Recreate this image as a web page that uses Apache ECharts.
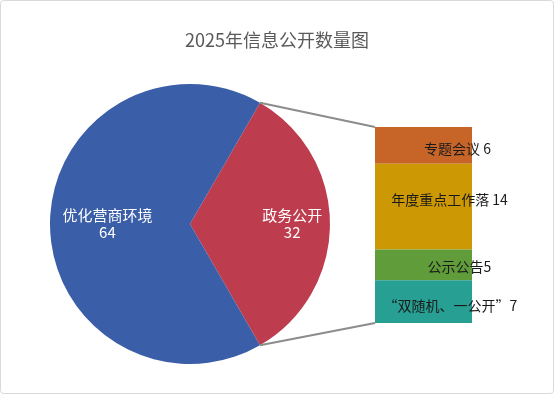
<!DOCTYPE html>
<html><head><meta charset="utf-8">
<script src="https://cdn.jsdelivr.net/npm/echarts@6/dist/echarts.min.js"></script>
<style>html,body{margin:0;padding:0;background:#fff}#c{width:554px;height:394px}</style>
</head><body><div id="c"></div>
<script>
const pieNames = ['政务公开', '优化营商环境'];
const pieValues = [32, 64];
const barNames = ['专题会议', '年度重点工作落', '公示公告', '“双随机、一公开”'];
const barValues = [6, 14, 5, 7];
const barLabels = ['专题会议 6', '年度重点工作落 14', '公示公告5', '“双随机、一公开”7'];

const FONT = '"Noto Sans CJK SC", "Microsoft YaHei", sans-serif';
const pieColors = ['#BD3C4E', '#3A5EA7'];
const barColors = ['#C76529', '#CC9904', '#609C39', '#27A093'];
const labelOffsets = [[34, 3], [26, -7], [36, 2], [27, 4]];
const pieLabelRadius = [0.73, 0.59];
const center = [190, 224], radius = 140;
const total = pieValues.reduce((a, b) => a + b, 0);
const half = pieValues[0] / total * 180;

// mid angles (degrees, counter-clockwise from +x) for each slice
const midAngles = [];
(function () {
  let start = half;
  pieValues.forEach(v => { const sweep = v / total * 360; midAngles.push(start - sweep / 2); start -= sweep; });
})();

const chart = echarts.init(document.getElementById('c'));
const barTotal = barValues.reduce((a, b) => a + b, 0);
const option = {
  animation: false,
  title: { text: '2025年信息公开数量图', left: 'center', top: 26,
    textStyle: { fontFamily: FONT, fontSize: 18, fontWeight: 'normal', color: '#595959' } },
  grid: { left: 375, top: 127, width: 97, height: 196 },
  xAxis: { type: 'category', data: ['x'], show: false },
  yAxis: { type: 'value', min: 0, max: barTotal, inverse: true, show: false },
  series: [
    { type: 'pie', center: center, radius: radius, startAngle: half, clockwise: true,
      label: { position: 'inside', color: '#fff', fontFamily: FONT, fontSize: 15, lineHeight: 17,
        align: 'center', verticalAlign: 'middle',
        formatter: p => p.name + '\n' + p.value },
      labelLayout: p => {
        const i = p.dataIndex, ang = midAngles[i] * Math.PI / 180, r = radius * pieLabelRadius[i];
        return { x: center[0] + r * Math.cos(ang), y: center[1] - r * Math.sin(ang), align: 'center', verticalAlign: 'middle' };
      },
      itemStyle: { borderColor: '#fff', borderWidth: 0 },
      data: pieNames.map((n, i) => ({ name: n, value: pieValues[i], itemStyle: { color: pieColors[i] } }))
    }
  ].concat(barValues.map((v, i) => ({
    type: 'bar', stack: 's', name: barNames[i], barWidth: '100%',
    data: [v], itemStyle: { color: barColors[i] },
    label: { show: true, position: 'inside', offset: labelOffsets[i], color: '#1a1a1a',
      fontFamily: FONT, fontSize: 14, formatter: () => barLabels[i] }
  })))
};
chart.setOption(option);

const topPt = chart.convertToPixel({ gridIndex: 0 }, ['x', 0]);
const botPt = chart.convertToPixel({ gridIndex: 0 }, ['x', barTotal]);
const barLeft = 375;
const a = half * Math.PI / 180;
const p1 = [center[0] + radius * Math.cos(a), center[1] - radius * Math.sin(a)];
const p2 = [center[0] + radius * Math.cos(a), center[1] + radius * Math.sin(a)];
chart.setOption({
  graphic: [
    { type: 'rect', shape: { x: 0.5, y: 0.5, width: 553, height: 393, r: 3 },
      style: { fill: 'none', stroke: '#d9d9d9', lineWidth: 1 }, z: 100 },
    { type: 'line', shape: { x1: p1[0], y1: p1[1], x2: barLeft, y2: topPt[1] },
      style: { stroke: '#8c8c8c', lineWidth: 2 }, z: 100 },
    { type: 'line', shape: { x1: p2[0], y1: p2[1], x2: barLeft, y2: botPt[1] },
      style: { stroke: '#8c8c8c', lineWidth: 2 }, z: 100 }
  ]
});
</script></body></html>
